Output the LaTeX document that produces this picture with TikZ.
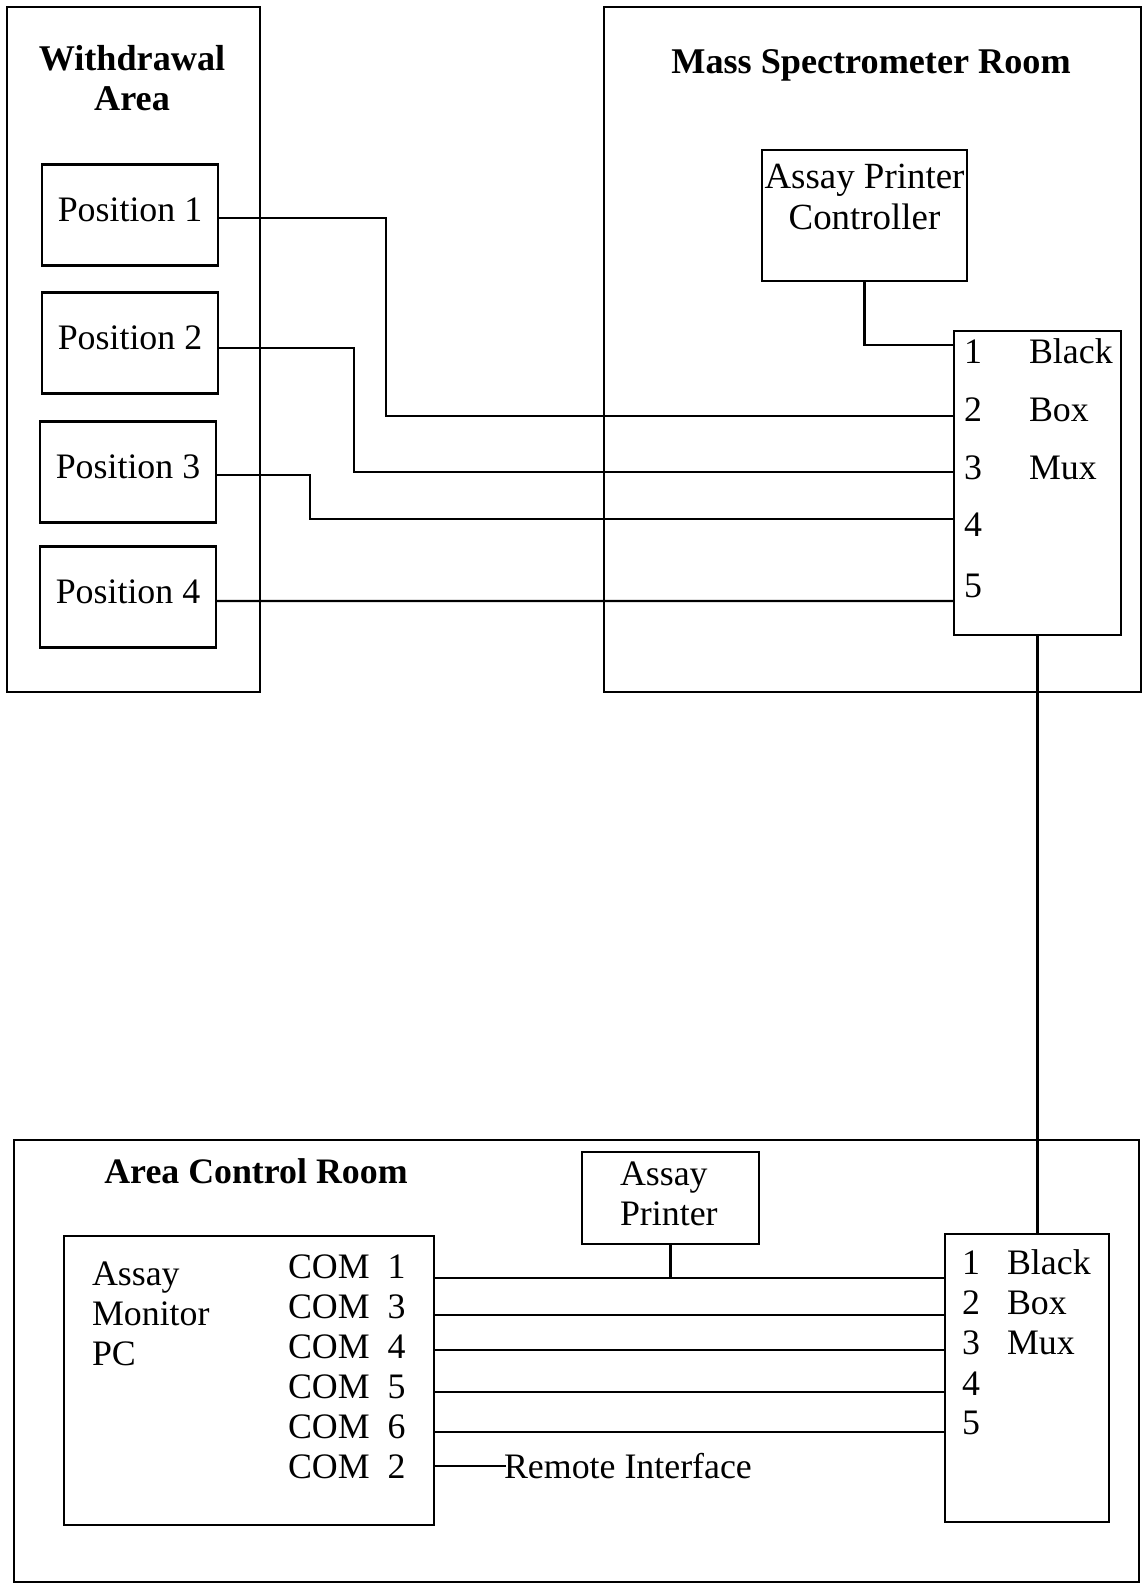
\documentclass[tikz,border=0pt]{standalone}
\usepackage{fontspec}
\setmainfont{Liberation Serif}
\usetikzlibrary{positioning}

\begin{document}
\begin{tikzpicture}[x=0.02cm,y=-0.02cm,line width=1.2pt,
  box/.style={draw,inner sep=0pt},
  txt/.style={inner sep=0pt,font=\fontsize{20.4}{22.7}\selectfont},
  ttl/.style={inner sep=0pt,align=center,font=\fontsize{20.6}{22.8}\selectfont\bfseries},
  posbox/.style={box,minimum width=3.52cm,minimum height=2.02cm,text depth=0.2cm,font=\fontsize{20.4}{22.7}\selectfont}]
\useasboundingbox (0,0) rectangle (1143,1584);
% withdrawal area
\node[box,minimum width=5.06cm,minimum height=13.7cm] (wa) at (133.5,349.5) {};
\node[ttl,anchor=north] (watitle) at (132,44) {Withdrawal\\Area};
\node[posbox] (p1) at (130,215) {Position 1};
\node[posbox] (p2) at (130,343) {Position 2};
\node[posbox] (p3) at (128,472) {Position 3};
\node[posbox] (p4) at (128,597) {Position 4};
% mass spectrometer room
\node[box,minimum width=10.74cm,minimum height=13.7cm] (ms) at (872.5,349.5) {};
\node[ttl,anchor=base] (mstitle) at (871,74) {Mass Spectrometer Room};
\node[box,minimum width=4.1cm,minimum height=2.62cm] (apc) at (864.5,215.5) {};
\node[txt,anchor=north,align=center,font=\fontsize{21}{23.5}\selectfont] (apctext) at (864.5,163) {Assay Printer\\Controller};
\node[box,minimum width=3.34cm,minimum height=6.08cm] (mux1) at (1037.5,483) {};
\foreach \n/\y in {1/364,2/421,3/479,4/536,5/597}
  \node[txt,anchor=base west] (a\n) at (963,\y) {\n};
\foreach \w/\y in {Black/364,Box/421,Mux/479}
  \node[txt,anchor=base west] (a\w) at (1028,\y) {\w};
\draw (apc.south) |- (mux1.west |- 0,345);
\draw ([yshift=-0.06cm]p1.east) -| (386,416) -- (mux1.west |- 0,416);
\draw ([yshift=-0.1cm]p2.east) -| (354,472) -- (mux1.west |- 0,472);
\draw ([yshift=-0.06cm]p3.east) -| (310,519) -- (mux1.west |- 0,519);
\draw ([yshift=-0.08cm]p4.east) -- (mux1.west |- 0,601);
% area control room
\node[box,minimum width=22.5cm,minimum height=8.84cm] (acr) at (576.5,1361) {};
\node[ttl,anchor=base,font=\fontsize{20.4}{22}\selectfont\bfseries] (acrtitle) at (256,1183) {Area Control Room};
\node[box,minimum width=3.54cm,minimum height=1.84cm] (ap) at (670.5,1198) {};
\node[txt,anchor=north west,align=left] (aptext) at (619,1161) {Assay\\Printer};
\node[box,minimum width=7.4cm,minimum height=5.78cm] (pc) at (249,1380.5) {};
\node[txt,anchor=north west,align=left] (pctext) at (91,1261) {Assay\\Monitor\\PC};
\foreach \n [count=\i] in {1,3,4,5,6,2}
  \node[txt,anchor=base west] (com\n) at (287,1238+40*\i) {COM\hspace{0.5em}\n};
\node[box,minimum width=3.28cm,minimum height=5.76cm] (mux2) at (1027,1378) {};
\foreach \n/\y in {1/1274,2/1314,3/1354,4/1395,5/1434}
  \node[txt,anchor=base west] (b\n) at (961,\y) {\n};
\foreach \w/\y in {Black/1274,Box/1314,Mux/1354}
  \node[txt,anchor=base west] (b\w) at (1006,\y) {\w};
\node[txt,anchor=base west] (ri) at (503,1478) {Remote Interface};
\foreach \y in {1278,1315,1350,1392,1432}
  \draw (pc.east |- 0,\y) -- (mux2.west |- 0,\y);
\draw (pc.east |- ri.west) -- ([xshift=0.06cm]ri.west);
\draw (ap.south) -- (ap.south |- 0,1278);
\draw (mux1.south) -- (mux1.south |- mux2.north);
\end{tikzpicture}
\end{document}
